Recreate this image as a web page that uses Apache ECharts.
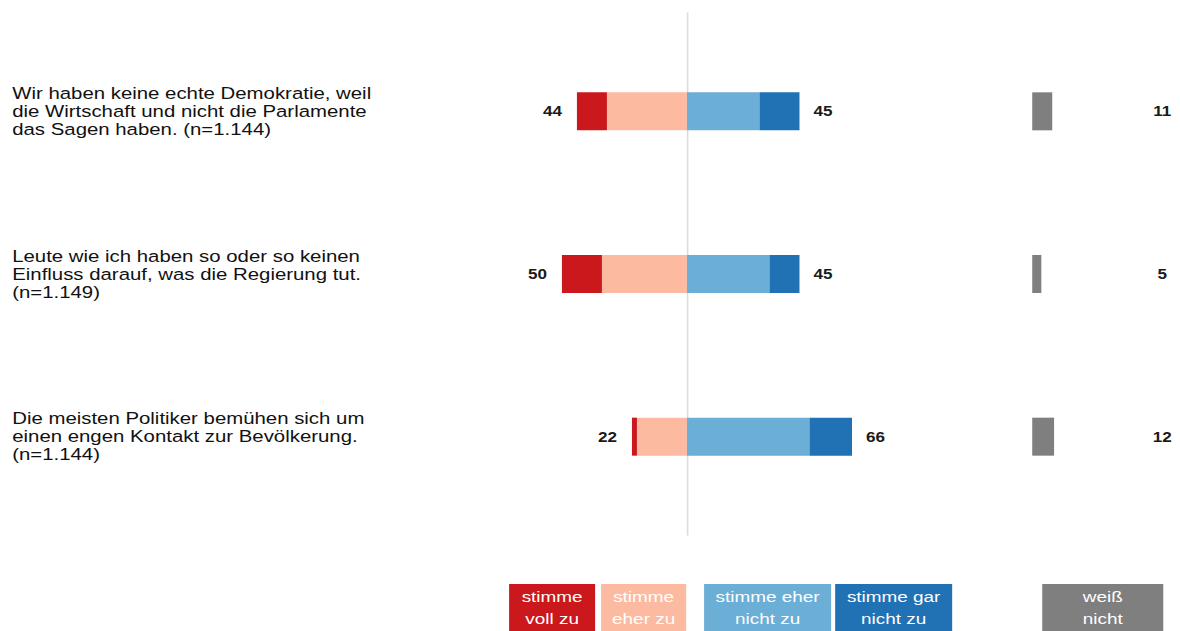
<!DOCTYPE html>
<html>
<head>
<meta charset="utf-8">
<script src="https://cdn.jsdelivr.net/npm/echarts@6/dist/echarts.min.js"></script>
<style>
  html, body { margin: 0; padding: 0; background: #fff; overflow: hidden; }
  /* the chart is laid out on a narrower canvas and widened horizontally */
  #chart { width: 967px; height: 631px; transform: scaleX(1.22027); transform-origin: 0 0; }
</style>
</head>
<body>
<div id="chart"></div>
<script>
// Statements (one row each)
const statements = [
  'Wir haben keine echte Demokratie, weil\ndie Wirtschaft und nicht die Parlamente\ndas Sagen haben. (n=1.144)',
  'Leute wie ich haben so oder so keinen\nEinfluss darauf, was die Regierung tut.\n(n=1.149)',
  'Die meisten Politiker bemühen sich um\neinen engen Kontakt zur Bevölkerung.\n(n=1.144)'
];

// Answer shares in percent
const stimmeVollZu      = [12, 16, 2];
const stimmeEherZu      = [32, 34, 20];
const stimmeEherNichtZu = [29, 33, 49];
const stimmeGarNichtZu  = [16, 12, 17];
const weissNicht        = [11, 5, 12];

// Legend entries
const legendNames = [
  'stimme\nvoll zu',
  'stimme\neher zu',
  'stimme eher\nnicht zu',
  'stimme gar\nnicht zu',
  'weiß\nnicht'
];

const COLORS = ['#cb181d', '#fcbba1', '#6baed6', '#2171b5', '#7f7f7f'];
const FONT = '"Liberation Sans", Arial, Helvetica, sans-serif';

const agreeTotal = stimmeVollZu.map((v, i) => v + stimmeEherZu[i]);
const disagreeTotal = stimmeEherNichtZu.map((v, i) => v + stimmeGarNichtZu[i]);

const chart = echarts.init(document.getElementById('chart'), null, {
  renderer: 'svg', width: 967, height: 631
});

// legend boxes below the plot
const legendLayout = [
  { x: 417.2, w: 70.5 },
  { x: 492.6, w: 69.7 },
  { x: 577.0, w: 104.1 },
  { x: 684.4, w: 95.9 },
  { x: 854.1, w: 99.2 }
];
const legendGraphics = [];
legendNames.forEach((name, i) => {
  const l = legendLayout[i];
  legendGraphics.push({
    type: 'rect',
    shape: { x: l.x, y: 584, width: l.w, height: 60 },
    style: { fill: COLORS[i] },
    silent: true
  });
  legendGraphics.push({
    type: 'text',
    style: {
      text: name,
      x: l.x + l.w / 2,
      y: 608,
      textAlign: 'center',
      textVerticalAlign: 'middle',
      fill: '#ffffff',
      font: '15.5px ' + FONT,
      lineHeight: 22
    },
    silent: true
  });
});

const barBase = { type: 'bar', stack: 'likert', barWidth: 38, xAxisIndex: 0, yAxisIndex: 0, silent: true };
const valueLabel = { fontSize: 14, fontWeight: 'bold', color: '#1a1a1a', fontFamily: FONT };

chart.setOption({
  animation: false,
  backgroundColor: '#ffffff',
  textStyle: { fontFamily: FONT },
  grid: [
    { left: 440, width: 266.4, top: 30, height: 488 },     // diverging bars
    { left: 440, width: 266.4, top: 13, height: 522 },     // zero line
    { left: 845.9, width: 29.84, top: 30, height: 488 }    // "weiß nicht"
  ],
  xAxis: [
    { gridIndex: 0, type: 'value', min: -60, max: 70, show: false },
    { gridIndex: 1, type: 'value', min: -60, max: 70, show: false },
    { gridIndex: 2, type: 'value', min: 0, max: 20, show: false }
  ],
  yAxis: [
    {
      gridIndex: 0, type: 'category', data: statements, inverse: true,
      axisLine: { show: false, onZero: false }, axisTick: { show: false }, splitLine: { show: false },
      axisLabel: {
        align: 'left', margin: 430, fontSize: 16.7, lineHeight: 18,
        color: '#111111', fontFamily: FONT
      }
    },
    {
      gridIndex: 1, type: 'value', min: 0, max: 1,
      axisLine: { show: true, onZero: true, lineStyle: { color: '#dcdcdc', width: 1.3 } },
      axisTick: { show: false }, axisLabel: { show: false }, splitLine: { show: false }
    },
    {
      gridIndex: 2, type: 'category', data: statements, inverse: true, position: 'right',
      axisLine: { show: false, onZero: false }, axisTick: { show: false }, splitLine: { show: false },
      axisLabel: Object.assign({
        align: 'center', margin: 76.7,
        formatter: (v, i) => String(weissNicht[i])
      }, valueLabel)
    }
  ],
  series: [
    Object.assign({}, barBase, {
      name: 'stimme eher zu',
      data: stimmeEherZu.map(v => -v),
      itemStyle: { color: COLORS[1] }
    }),
    Object.assign({}, barBase, {
      name: 'stimme voll zu',
      data: stimmeVollZu.map(v => -v),
      itemStyle: { color: COLORS[0] },
      label: Object.assign({
        show: true, position: 'left', distance: 12.3,
        formatter: p => String(agreeTotal[p.dataIndex])
      }, valueLabel)
    }),
    Object.assign({}, barBase, {
      name: 'stimme eher nicht zu',
      data: stimmeEherNichtZu,
      itemStyle: { color: COLORS[2] }
    }),
    Object.assign({}, barBase, {
      name: 'stimme gar nicht zu',
      data: stimmeGarNichtZu,
      itemStyle: { color: COLORS[3] },
      label: Object.assign({
        show: true, position: 'right', distance: 11.5,
        formatter: p => String(disagreeTotal[p.dataIndex])
      }, valueLabel)
    }),
    {
      type: 'bar', name: 'weiß nicht', xAxisIndex: 2, yAxisIndex: 2, silent: true,
      barWidth: 38, data: weissNicht, itemStyle: { color: COLORS[4] }
    }
  ],
  graphic: { elements: legendGraphics }
});
</script>
</body>
</html>
